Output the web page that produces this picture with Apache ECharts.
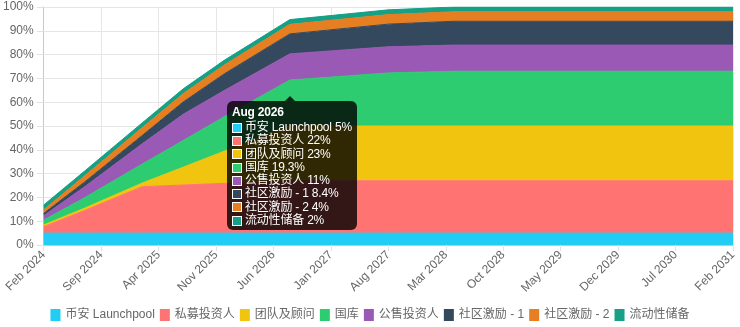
<!DOCTYPE html>
<html>
<head>
<meta charset="utf-8">
<script src="https://cdn.jsdelivr.net/npm/echarts@6/dist/echarts.min.js"></script>
<style>
html,body{margin:0;padding:0;background:#fff;}
#chart{width:740px;height:327px;}
</style>
</head>
<body>
<div id="chart"></div>
<script>
// Keypoint months (0 = Feb 2024)
const months      = [0, 5, 12, 17, 22, 30, 42, 50, 84];
const launchpool  = [5, 5, 5, 5, 5, 5, 5, 5, 5];
const privateInv  = [2.7, 9.5, 19.5, 20.2, 20.9, 22, 22, 22, 22];
const team        = [0.7, 1.0, 1.5, 7.5, 13.5, 23, 23, 23, 23];
const treasury    = [2.1, 4.4, 8.0, 11.2, 14.5, 19.3, 22.3, 23, 23];
const publicSale  = [1.8, 4.6, 8.5, 11, 11, 11, 11, 11, 11];
const community1  = [1.0, 2.0, 3.5, 5.2, 7.0, 8.4, 9.5, 10, 10];
const community2  = [1.5, 2.6, 3.3, 3.5, 3.7, 4, 4, 4, 4];
const liquidity   = [2, 2, 2, 2, 2, 2, 2, 2, 2];

const seriesNames = ['币安 Launchpool','私募投资人','团队及顾问','国库','公售投资人','社区激励 - 1','社区激励 - 2','流动性储备'];
const seriesData  = [launchpool, privateInv, team, treasury, publicSale, community1, community2, liquidity];
const colors      = ['#22CDF5','#FF7373','#F1C40F','#2ECC71','#9B59B6','#34495E','#E67E22','#16A085'];

const tickLabels = ['Feb 2024','Sep 2024','Apr 2025','Nov 2025','Jun 2026','Jan 2027','Aug 2027','Mar 2028','Oct 2028','May 2029','Dec 2029','Jul 2030','Feb 2031'];
const tipMonthIndex = 5; // Aug 2026
const tipTitle = 'Aug 2026';

const font = "'Liberation Sans', Arial, 'Noto Sans CJK SC', sans-serif";

const chart = echarts.init(document.getElementById('chart'), null, {renderer: 'canvas'});

// value first so that the stacked dimension is the y value
const series = seriesNames.map((name, i) => ({
  name: name,
  type: 'line',
  stack: 'total',
  symbol: 'none',
  color: colors[i],
  lineStyle: {width: 1, color: colors[i]},
  areaStyle: {color: colors[i], opacity: 1},
  emphasis: {disabled: true},
  encode: {x: 1, y: 0},
  data: months.map((m, k) => [seriesData[i][k], m])
}));

function tipHtml() {
  let h = '<div style="position:relative;">';
  h += '<div style="position:absolute;left:53px;top:-10px;width:0;height:0;border-left:5px solid transparent;border-right:5px solid transparent;border-bottom:5px solid rgba(0,0,0,0.8);"></div>';
  h += '<div style="font-weight:bold;height:12px;line-height:12px;margin-bottom:3px;">' + tipTitle + '</div>';
  for (let i = 0; i < seriesNames.length; i++) {
    h += '<div style="height:13.3px;line-height:13.3px;white-space:nowrap;display:flex;align-items:center;">' +
      '<span style="display:inline-block;width:10px;height:10px;box-sizing:border-box;border:1px solid #fff;background:' + colors[i] + ';margin-right:3px;"></span>' +
      seriesNames[i] + ' ' + seriesData[i][tipMonthIndex] + '%</div>';
  }
  h += '</div>';
  return h;
}

chart.setOption({
  animation: false,
  grid: {left: 43, right: 7, top: 7, bottom: 82, containLabel: false},
  tooltip: {
    trigger: 'axis',
    triggerOn: 'none',
    alwaysShowContent: true,
    transitionDuration: 0,
    axisPointer: {type: 'none'},
    position: [227, 101],
    backgroundColor: 'rgba(0,0,0,0.8)',
    borderWidth: 0,
    padding: [5, 5, 3, 5],
    textStyle: {color: '#fff', fontSize: 12, fontFamily: font},
    extraCssText: 'border-radius:6px;box-shadow:none;letter-spacing:-0.2px;',
    formatter: function () { return tipHtml(); }
  },
  legend: {
    top: 304,
    left: 'center',
    icon: 'rect',
    itemWidth: 10,
    itemHeight: 12,
    itemGap: 5,
    textStyle: {color: '#666', fontSize: 12, fontFamily: font},
    data: seriesNames
  },
  xAxis: {
    type: 'value',
    min: 0,
    max: 84,
    interval: 7,
    axisLine: {show: true, onZero: false, lineStyle: {color: '#c8c8c8'}},
    axisTick: {show: true, length: 6, lineStyle: {color: '#e2e2e2'}},
    splitLine: {show: true, lineStyle: {color: '#e6e6e6'}},
    axisLabel: {
      rotate: 45,
      margin: 8,
      color: '#666',
      fontSize: 12,
      fontFamily: font,
      formatter: function (v) { return tickLabels[Math.round(v / 7)]; }
    }
  },
  yAxis: {
    type: 'value',
    min: 0,
    max: 100,
    interval: 10,
    axisLine: {show: true, lineStyle: {color: '#c8c8c8'}},
    axisTick: {show: true, length: 7, lineStyle: {color: '#e2e2e2'}},
    splitLine: {show: true, lineStyle: {color: '#e6e6e6'}},
    axisLabel: {
      margin: 10,
      color: '#666',
      fontSize: 12,
      fontFamily: font,
      formatter: '{value}%'
    }
  },
  series: series
});

chart.dispatchAction({type: 'showTip', seriesIndex: 0, dataIndex: tipMonthIndex});
</script>
</body>
</html>
